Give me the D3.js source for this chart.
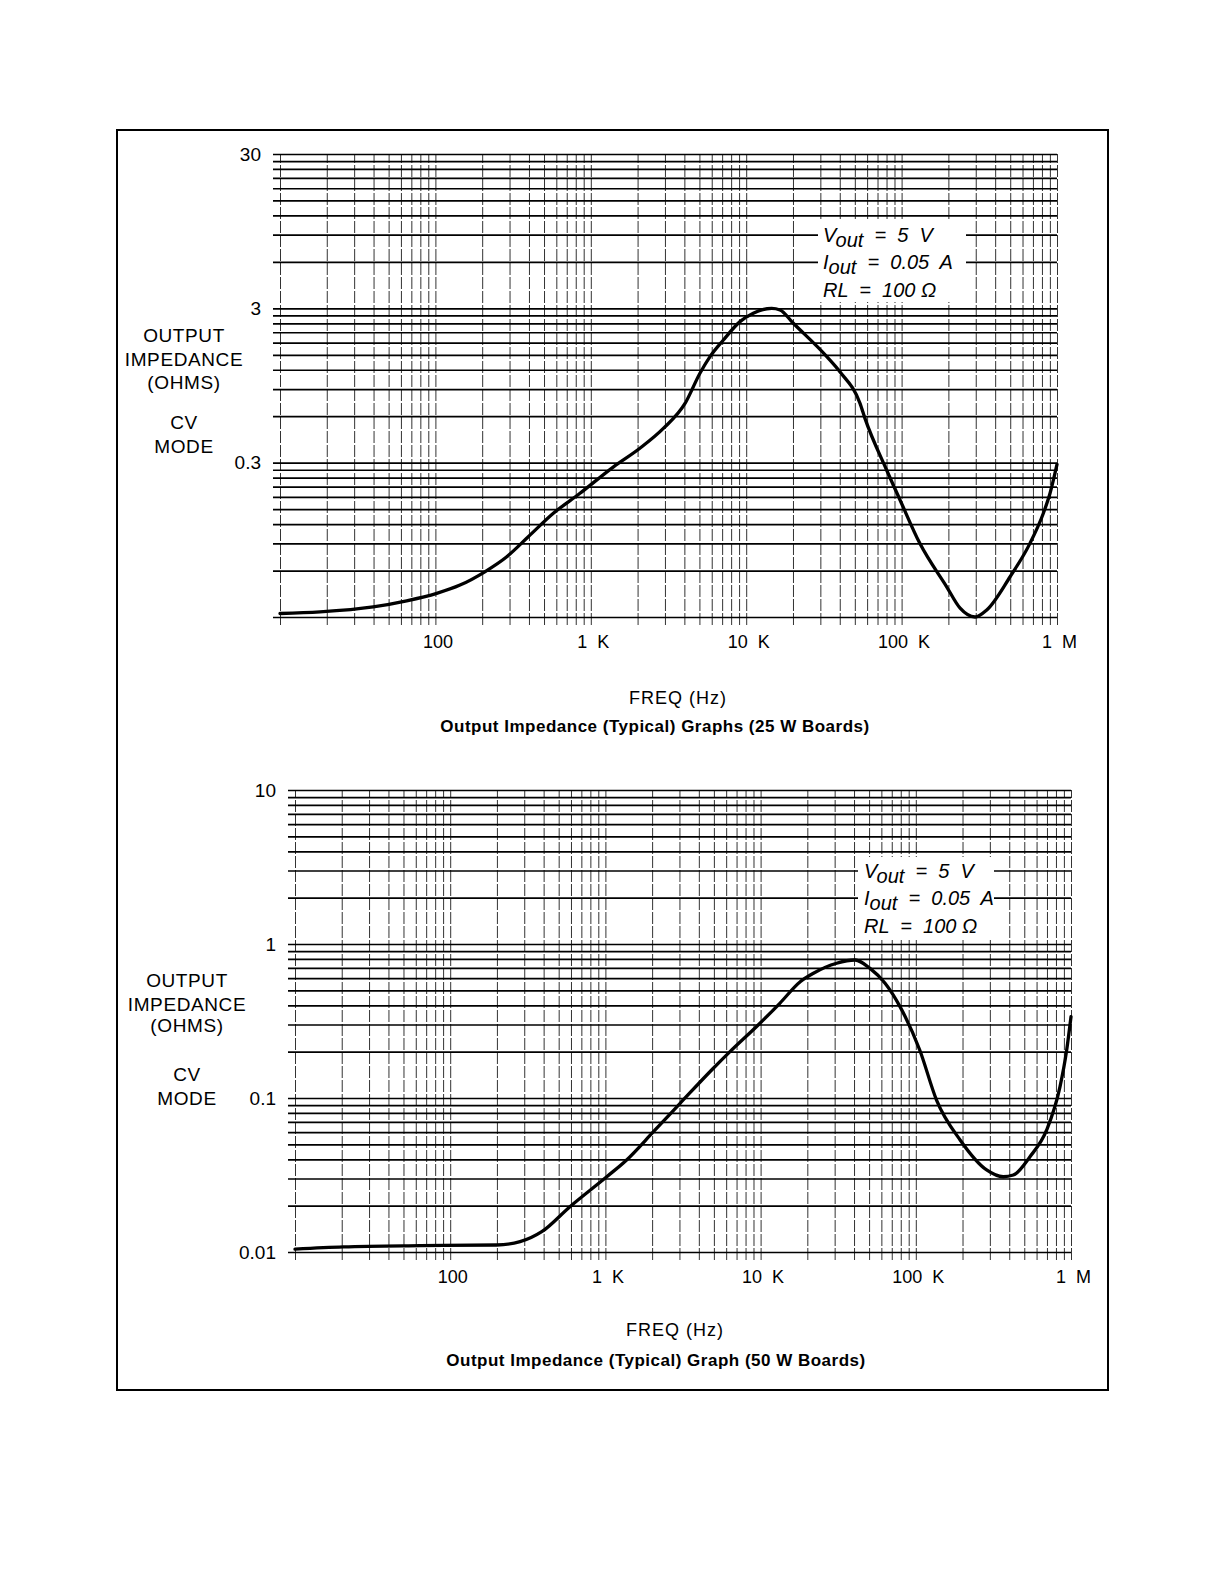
<!DOCTYPE html>
<html>
<head>
<meta charset="utf-8">
<script src="https://cdn.jsdelivr.net/npm/d3@7"></script>
<style>
  html, body { margin: 0; padding: 0; background: #fff; }
  svg { display: block; }
  text { font-family: "Liberation Sans", Arial, Helvetica, sans-serif; fill: #000; }
</style>
</head>
<body>
<svg id="chart" width="1225" height="1585"></svg>
<script>
// ---------- DATA ----------
const xTickValues = [100, 1e3, 1e4, 1e5, 1e6];
const xTickLabels = ["100", "1 K", "10 K", "100 K", "1 M"];

// Chart 1 (25 W boards)
const topYTickValues = [30, 3, 0.3];
const topYTickLabels = ["30", "3", "0.3"];
const topFreq = [10, 18.1, 39.8, 65.3, 102, 144, 208, 288, 396, 574, 852, 1400, 2070, 2930, 4040, 5040,
  5850, 7130, 9120, 11100, 14600, 16500, 20100, 33000, 40200, 54000, 58100, 80200, 97700, 131000,
  195000, 238000, 297000, 353000, 499000, 670000, 817000, 902000, 1000000];
const topZ = [0.0316, 0.0324, 0.0349, 0.0382, 0.0427, 0.0483, 0.0589, 0.0737, 0.0993, 0.141, 0.190, 0.282,
  0.372, 0.500, 0.726, 1.14, 1.46, 1.87, 2.46, 2.79, 3.0, 2.93, 2.40, 1.46, 1.16, 0.726, 0.581, 0.268,
  0.172, 0.090, 0.0471, 0.0342, 0.0300, 0.0333, 0.0547, 0.0900, 0.141, 0.190, 0.292];

// Chart 2 (50 W boards)
const botYTickValues = [10, 1, 0.1, 0.01];
const botYTickLabels = ["10", "1", "0.1", "0.01"];
const botFreq = [10, 20.5, 63.9, 199, 282, 389, 591, 1020, 1370, 2040, 3030, 4960, 6350, 9910, 13300,
  18000, 21900, 30900, 40600, 50700, 63400, 79100, 106000, 136000, 193000, 286000, 366000, 425000,
  544000, 697000, 849000, 938000, 1000000];
const botZ = [0.01045, 0.0108, 0.0110, 0.0111, 0.01167, 0.01355, 0.0197, 0.0308, 0.0396, 0.0604, 0.0924,
  0.156, 0.200, 0.306, 0.412, 0.569, 0.646, 0.750, 0.787, 0.695, 0.556, 0.392, 0.205, 0.097, 0.0534,
  0.0341, 0.0308, 0.0316, 0.0416, 0.0620, 0.118, 0.205, 0.337];

const yLabelLines = ["OUTPUT", "IMPEDANCE", "(OHMS)", "CV", "MODE"];
const xTitle = "FREQ (Hz)";
const topCaption = "Output Impedance (Typical) Graphs (25 W Boards)";
const botCaption = "Output Impedance (Typical) Graph (50 W Boards)";

// ---------- DRAWING ----------
const svg = d3.select("#chart");
svg.append("rect").attr("width", 1225).attr("height", 1585).attr("fill", "#fff");

// outer frame
svg.append("rect").attr("x", 117).attr("y", 130).attr("width", 991).attr("height", 1260)
  .attr("fill", "none").attr("stroke", "#000").attr("stroke-width", 2);

function gridValues(base, decadesFrom, decadesTo) {
  const out = [];
  for (let n = decadesFrom; n <= decadesTo; n++) {
    for (let k = 1; k <= 10; k++) out.push(+(base * k * Math.pow(10, n)).toPrecision(6));
  }
  return Array.from(new Set(out));
}

function drawChart(cfg) {
  const W = cfg.x1 - cfg.x0, H = cfg.yBot - cfg.yTop;
  const g = svg.append("g").attr("transform", `translate(${cfg.x0},${cfg.yTop})`);
  const x = d3.scaleLog().domain([10, 1e6]).range([0, W]);
  const y = d3.scaleLog().domain(cfg.yDomain).range([H, 0]);

  // vertical grid (extends 8px below plot)
  const xg = g.append("g").attr("transform", `translate(0,${H + 8})`)
    .call(d3.axisBottom(x).tickValues(gridValues(1, 1, 5)).tickSize(-(H + 8)).tickFormat(""));
  xg.select(".domain").remove();
  xg.selectAll(".tick line").attr("stroke", "#333").attr("stroke-width", 1).attr("stroke-dasharray", "12,2");

  // horizontal grid (extends 7px left of plot)
  const yg = g.append("g").attr("transform", `translate(-7,0)`)
    .call(d3.axisLeft(y).tickValues(cfg.yGrid).tickSize(-(W + 7)).tickFormat(""));
  yg.select(".domain").remove();
  yg.selectAll(".tick line").attr("stroke", "#000").attr("stroke-width", 1.7);

  // white box for annotation
  g.append("rect").attr("x", cfg.box[0] - cfg.x0).attr("y", cfg.box[1] - cfg.yTop)
    .attr("width", cfg.box[2]).attr("height", cfg.box[3]).attr("fill", "#fff");

  // curve
  const line = d3.line().x(d => x(d[0])).y(d => y(d[1])).curve(d3.curveMonotoneX);
  g.append("path").datum(d3.zip(cfg.freq, cfg.z)).attr("d", line)
    .attr("fill", "none").attr("stroke", "#000").attr("stroke-width", 3.3)
    .attr("stroke-linejoin", "round").attr("stroke-linecap", "round");

  // y tick labels
  const ya = g.append("g").call(d3.axisLeft(y).tickValues(cfg.yTicks).tickSize(0).tickPadding(19)
    .tickFormat((d, i) => cfg.yTickLabels[i]));
  ya.select(".domain").remove();
  ya.selectAll("text").style("font-size", "19px").style("font-family", "'Liberation Sans', Arial, sans-serif");

  // x tick labels
  const xa = g.append("g").attr("transform", `translate(0,${H})`)
    .call(d3.axisBottom(x).tickValues(xTickValues).tickSize(0).tickPadding(18)
      .tickFormat((d, i) => xTickLabels[i]));
  xa.select(".domain").remove();
  xa.selectAll("text").style("font-size", "18px").style("font-family", "'Liberation Sans', Arial, sans-serif")
    .style("word-spacing", "5px").attr("dx", 2);

  // y axis title lines
  cfg.yLabelY.forEach((yy, i) => {
    svg.append("text").attr("x", cfg.yLabelX).attr("y", yy).attr("text-anchor", "middle")
      .style("font-size", "19px").style("letter-spacing", "0.6px").text(yLabelLines[i]);
  });

  // x title & caption
  svg.append("text").attr("x", cfg.xTitleX).attr("y", cfg.xTitleY).attr("text-anchor", "middle")
    .style("font-size", "18px").style("letter-spacing", "1px").text(xTitle);
  svg.append("text").attr("x", cfg.capX).attr("y", cfg.capY).attr("text-anchor", "middle")
    .style("font-size", "17px").style("font-weight", "bold").style("letter-spacing", "0.5px")
    .text(cfg.caption);

  // annotation
  const ax = cfg.annX, ay = cfg.annY;
  const fs = "20px";
  const t1 = svg.append("text").attr("x", ax).attr("y", ay).style("font-size", fs)
    .style("font-style", "italic").style("white-space", "pre");
  t1.append("tspan").text("V");
  t1.append("tspan").attr("dy", 5).text("out");
  t1.append("tspan").attr("dy", -5).text("  =  5  V");
  const t2 = svg.append("text").attr("x", ax).attr("y", ay + 27).style("font-size", fs)
    .style("font-style", "italic").style("white-space", "pre");
  t2.append("tspan").text("I");
  t2.append("tspan").attr("dy", 5).text("out");
  t2.append("tspan").attr("dy", -5).text("  =  0.05  A");
  svg.append("text").attr("x", ax).attr("y", ay + 55).style("font-size", fs)
    .style("font-style", "italic").style("white-space", "pre").text("RL  =  100 \u03A9");
}

drawChart({
  x0: 280, x1: 1057, yTop: 154, yBot: 617, yDomain: [0.03, 30],
  yGrid: gridValues(3, -2, 0), yTicks: topYTickValues, yTickLabels: topYTickLabels,
  freq: topFreq, z: topZ,
  box: [818, 221, 148, 81],
  yLabelX: 184, yLabelY: [342, 366, 389, 429, 453],
  xTitleX: 678, xTitleY: 704, capX: 655, capY: 732, caption: topCaption,
  annX: 823, annY: 242
});

drawChart({
  x0: 295, x1: 1071, yTop: 790, yBot: 1252, yDomain: [0.01, 10],
  yGrid: gridValues(1, -2, 0), yTicks: botYTickValues, yTickLabels: botYTickLabels,
  freq: botFreq, z: botZ,
  box: [858, 857, 136, 81],
  yLabelX: 187, yLabelY: [987, 1011, 1032, 1081, 1105],
  xTitleX: 675, xTitleY: 1336, capX: 656, capY: 1366, caption: botCaption,
  annX: 864, annY: 878
});
</script>
</body>
</html>
